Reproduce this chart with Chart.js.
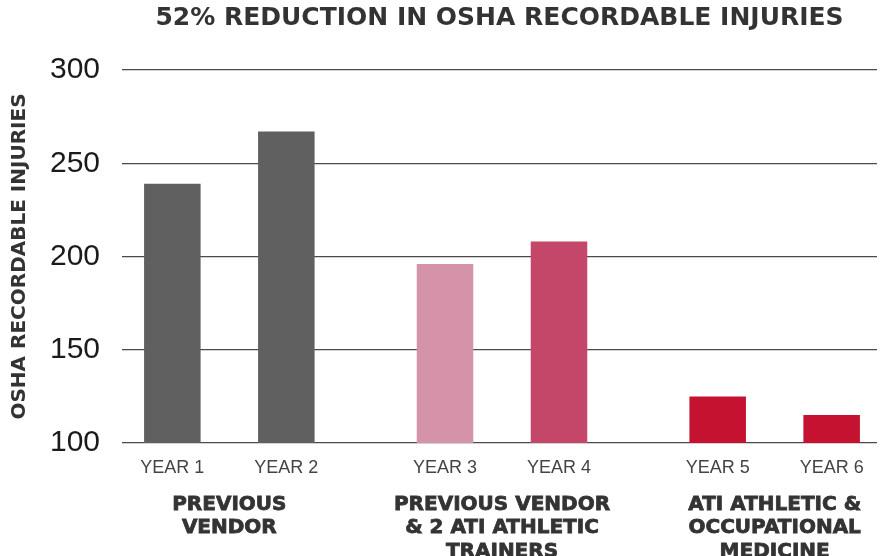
<!DOCTYPE html>
<html>
<head>
<meta charset="utf-8">
<script src="https://cdn.jsdelivr.net/npm/chart.js@4/dist/chart.umd.min.js"></script>
<style>
  html, body { margin: 0; padding: 0; background: #fff; }
  #wrap { width: 883px; height: 556px; overflow: hidden; }
</style>
</head>
<body>
<div id="wrap"><canvas id="chart" width="883" height="556"></canvas></div>
<script>
const groupLabels = [
  ["PREVIOUS", "VENDOR"],
  ["PREVIOUS VENDOR", "& 2 ATI ATHLETIC", "TRAINERS"],
  ["ATI ATHLETIC &", "OCCUPATIONAL", "MEDICINE"],
];
const firstYearLabels = ["YEAR 1", "YEAR 3", "YEAR 5"];
const secondYearLabels = ["YEAR 2", "YEAR 4", "YEAR 6"];
const firstYearValues = [239, 196, 125];
const secondYearValues = [267, 208, 115];
const yMin = 100;
const yMax = 300;
const yStep = 50;

// groups sit a bit wider than the grid lines, like in the original layout
const stretchX = {
  id: "stretchX",
  afterLayout(chart) {
    const x = chart.scales.x;
    x.left = chart.chartArea.left - 29;
    x.right = chart.chartArea.right + 34;
    x.width = x.right - x.left;
    x.configure();
  },
};

// year name under each bar
const yearLabels = {
  id: "yearLabels",
  afterDatasetsDraw(chart) {
    const ctx = chart.ctx;
    const names = [firstYearLabels, secondYearLabels];
    ctx.save();
    ctx.font = "18px 'Liberation Sans', Arial, sans-serif";
    ctx.fillStyle = "#444";
    ctx.textAlign = "center";
    ctx.textBaseline = "middle";
    chart.data.datasets.forEach((ds, di) => {
      chart.getDatasetMeta(di).data.forEach((bar, i) => {
        ctx.fillText(names[di][i], bar.x, chart.chartArea.bottom + 25);
      });
    });
    ctx.restore();
  },
};

new Chart(document.getElementById("chart"), {
  type: "bar",
  data: {
    labels: groupLabels,
    datasets: [
      {
        label: "First year",
        data: firstYearValues,
        backgroundColor: ["#606060", "#d493a8", "#c41230"],
        categoryPercentage: 0.836,
        barPercentage: 0.496,
      },
      {
        label: "Second year",
        data: secondYearValues,
        backgroundColor: ["#606060", "#c4476a", "#c41230"],
        categoryPercentage: 0.836,
        barPercentage: 0.496,
      },
    ],
  },
  options: {
    responsive: false,
    animation: false,
    layout: { padding: { left: 0, right: 6, top: 0, bottom: 0 } },
    plugins: {
      legend: { display: false },
      tooltip: { enabled: false },
      title: {
        display: true,
        fullSize: false,
        text: "52% REDUCTION IN OSHA RECORDABLE INJURIES",
        color: "#333",
        font: { family: "'DejaVu Sans', sans-serif", size: 25, weight: "bold" },
        padding: { top: 3, bottom: 37 },
      },
    },
    scales: {
      x: {
        grid: { display: false, drawTicks: false },
        border: { display: false },
        ticks: {
          autoSkip: false,
          maxRotation: 0,
          padding: 50,
          color: "#333",
          textStrokeColor: "#333",
          textStrokeWidth: 0.8,
          font: { family: "'DejaVu Sans', sans-serif", size: 20, weight: "bold", lineHeight: 1.175 },
        },
        afterFit(scale) {
          scale.height = 113;
          scale.paddingLeft = 0;
          scale.paddingRight = 0;
        },
      },
      y: {
        min: yMin,
        max: yMax,
        grid: { color: "#4a4a4a", lineWidth: 1.2, drawTicks: false },
        border: { display: false },
        ticks: {
          stepSize: yStep,
          padding: 22,
          color: "#1a1a1a",
          font: { family: "'Liberation Sans', Arial, sans-serif", size: 30 },
        },
        title: {
          display: true,
          text: "OSHA RECORDABLE INJURIES",
          color: "#333",
          font: { family: "'DejaVu Sans', sans-serif", size: 20, weight: "bold" },
          padding: { top: 8, bottom: 4 },
        },
        afterFit(scale) {
          scale.width = 122;
        },
      },
    },
  },
  plugins: [stretchX, yearLabels],
});
</script>
</body>
</html>
